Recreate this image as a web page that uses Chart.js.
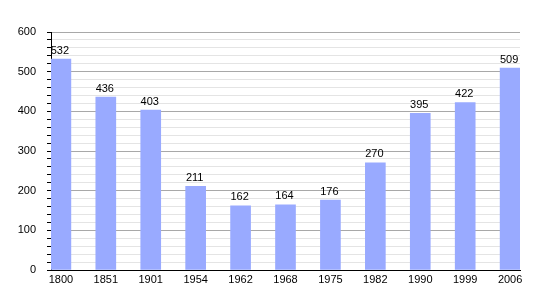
<!DOCTYPE html>
<html>
<head>
<meta charset="utf-8">
<script src="https://cdn.jsdelivr.net/npm/chart.js@4"></script>
<style>
  html, body { margin: 0; padding: 0; background: #fff; }
  #wrap { width: 550px; height: 300px; position: relative; }
</style>
</head>
<body>
<div id="wrap"><canvas id="chart"></canvas></div>
<script>
  // ---- Data ----
  const years = ['1800', '1851', '1901', '1954', '1962', '1968', '1975', '1982', '1990', '1999', '2006'];
  const population = [532, 436, 403, 211, 162, 164, 176, 270, 395, 422, 509];

  const FONT = "'Liberation Sans', Arial, sans-serif";

  // value labels on top of each bar
  const barLabels = {
    id: 'barLabels',
    afterDatasetsDraw(chart) {
      const ctx = chart.ctx;
      const meta = chart.getDatasetMeta(0);
      ctx.save();
      ctx.font = '11px ' + FONT;
      ctx.fillStyle = '#000';
      ctx.textAlign = 'center';
      ctx.textBaseline = 'bottom';
      meta.data.forEach((bar, i) => {
        ctx.fillText(population[i], bar.x - 1, bar.y - 3);
      });
      ctx.restore();
    }
  };

  new Chart(document.getElementById('chart'), {
    type: 'bar',
    data: {
      datasets: [{
        data: population.map((v, i) => ({ x: i, y: v })),
        backgroundColor: '#99aaff',
        borderWidth: 0,
        barThickness: 20
      }]
    },
    options: {
      responsive: true,
      maintainAspectRatio: false,
      animation: false,
      layout: { padding: { top: 32, right: 30, left: 0, bottom: 0 } },
      plugins: {
        legend: { display: false },
        tooltip: { enabled: false }
      },
      scales: {
        x: {
          type: 'linear',
          offset: false,
          min: -0.22,
          max: 10.22,
          afterBuildTicks: (scale) => {
            scale.ticks = years.map((_, i) => ({ value: i }));
          },
          afterFit: (scale) => { scale.height = 30; },
          grid: { display: false, drawTicks: false },
          border: { color: '#000', width: 1 },
          ticks: {
            color: '#000',
            font: { family: FONT, size: 11 },
            padding: 3,
            maxRotation: 0,
            autoSkip: false,
            callback: (v) => years[v]
          }
        },
        y: {
          min: 0,
          max: 600,
          afterFit: (scale) => { scale.width = 51; },
          border: { color: '#000', width: 1 },
          grid: {
            color: (c) => (c.tick && c.tick.value % 100 === 0) ? '#a8a8a8' : '#e4e4e4',
            tickColor: '#000',
            tickLength: 4,
            lineWidth: 1
          },
          ticks: {
            stepSize: 20,
            autoSkip: false,
            color: '#000',
            font: { family: FONT, size: 11 },
            padding: 11,
            callback: (v) => (v % 100 === 0 ? v : '')
          }
        }
      }
    },
    plugins: [barLabels]
  });
</script>
</body>
</html>
